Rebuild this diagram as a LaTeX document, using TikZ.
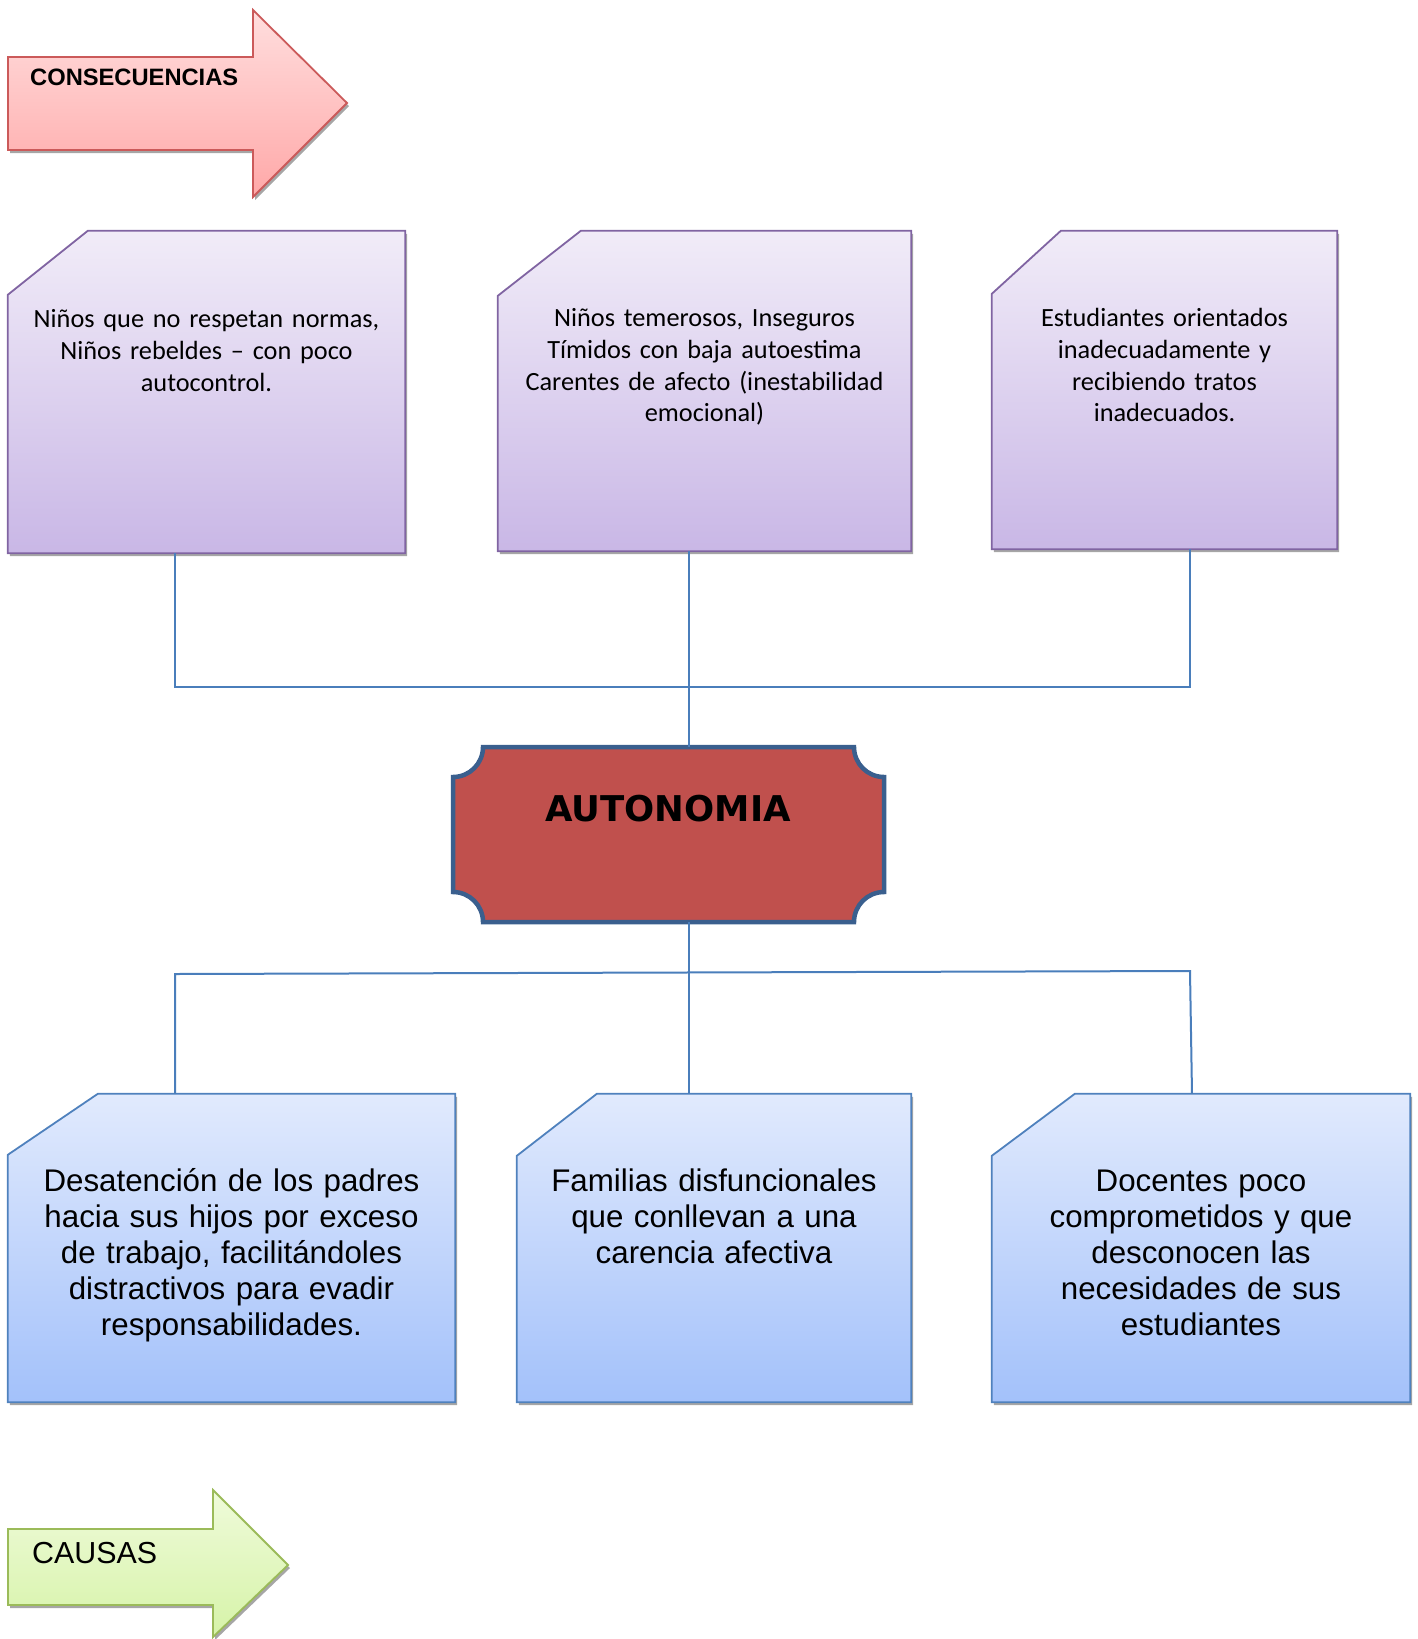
\documentclass[tikz,border=0pt]{standalone}
\usepackage{fontspec}
\setmainfont{Liberation Sans}
\newfontfamily\calfont{Carlito}
\newfontfamily\plaquefont{DejaVu Sans}
\usetikzlibrary{shadows}

\definecolor{linkblue}{HTML}{4A7EBB}
\definecolor{purpline}{HTML}{8064A2}
\definecolor{purptop}{HTML}{F1ECF8}
\definecolor{purpbot}{HTML}{C9B7E6}
\definecolor{blueline}{HTML}{4F81BD}
\definecolor{bluetop}{HTML}{E1EAFD}
\definecolor{bluebot}{HTML}{A3C1FA}
\definecolor{redline}{HTML}{CB5A5A}
\definecolor{redtop}{HTML}{FFDEDE}
\definecolor{redbot}{HTML}{FFA8A8}
\definecolor{greenline}{HTML}{9BBB59}
\definecolor{greentop}{HTML}{EFFBDA}
\definecolor{greenbot}{HTML}{D6F3A8}
\definecolor{plaqueline}{HTML}{3A5F8E}
\definecolor{plaquered}{HTML}{C0504D}

\begin{document}
\begin{tikzpicture}[x=1pt,y=-1pt,
  link/.style={draw=linkblue, line width=2pt},
  frame/.style={rectangle, inner sep=0pt, draw=none},
  shad/.style={drop shadow={shadow xshift=2pt, shadow yshift=-3pt, opacity=0.35, fill=black}},
  consbox/.style={shad, draw=purpline, line width=1.8pt, top color=purptop, bottom color=purpbot},
  causbox/.style={shad, draw=blueline, line width=1.8pt, top color=bluetop, bottom color=bluebot},
  constext/.style={anchor=base, inner sep=0pt, align=center, text width=390pt, font=\calfont\fontsize{26.3}{31.6}\selectfont},
  caustext/.style={anchor=base, inner sep=0pt, align=center, text width=420pt, font=\fontsize{31.3}{36}\selectfont}]

    \useasboundingbox (0,0) rectangle (1417,1639);

    % arrows
    \draw[shad, draw=redline, line width=1.8pt, top color=redtop, bottom color=redbot] (8,57) -- (253,57) -- (253,10) -- (347,103) -- (253,197) -- (253,150) -- (8,150) -- cycle;
    \node[anchor=base west, inner sep=0pt, font=\bfseries\fontsize{23.7}{28}\selectfont] (conseq) at (30,85) {CONSECUENCIAS};

    \draw[shad, draw=greenline, line width=1.8pt, top color=greentop, bottom color=greenbot] (8,1529) -- (213,1529) -- (213,1490) -- (288,1565) -- (213,1637) -- (213,1605) -- (8,1605) -- cycle;
    \node[anchor=base west, inner sep=0pt, font=\fontsize{30.4}{34}\selectfont] (causas) at (32,1563) {CAUSAS};

    % boxes
    \node[frame, minimum width=397pt, minimum height=322pt] (c1) at (206.5,392) {};
    \node[frame, minimum width=413pt, minimum height=320pt] (c2) at (704.5,391) {};
    \node[frame, minimum width=345pt, minimum height=318pt] (c3) at (1164.5,390) {};
    \node[frame, minimum width=447pt, minimum height=308pt] (k1) at (231.5,1248) {};
    \node[frame, minimum width=394pt, minimum height=308pt] (k2) at (714,1248) {};
    \node[frame, minimum width=418pt, minimum height=308pt] (k3) at (1201,1248) {};

    \draw[consbox] ([xshift=80pt]c1.north west) -- (c1.north east) -- (c1.south east) -- (c1.south west) -- ([yshift=-64pt]c1.north west) -- cycle;
    \draw[consbox] ([xshift=83pt]c2.north west) -- (c2.north east) -- (c2.south east) -- (c2.south west) -- ([yshift=-65pt]c2.north west) -- cycle;
    \draw[consbox] ([xshift=69pt]c3.north west) -- (c3.north east) -- (c3.south east) -- (c3.south west) -- ([yshift=-63pt]c3.north west) -- cycle;
    \draw[causbox] ([xshift=90pt]k1.north west) -- (k1.north east) -- (k1.south east) -- (k1.south west) -- ([yshift=-61pt]k1.north west) -- cycle;
    \draw[causbox] ([xshift=80pt]k2.north west) -- (k2.north east) -- (k2.south east) -- (k2.south west) -- ([yshift=-62pt]k2.north west) -- cycle;
    \draw[causbox] ([xshift=83pt]k3.north west) -- (k3.north east) -- (k3.south east) -- (k3.south west) -- ([yshift=-62pt]k3.north west) -- cycle;

    \node[constext] (t1) at ([yshift=-97pt]c1.north) {Niños que no respetan normas,\\Niños rebeldes – con poco\\autocontrol.};
    \node[constext] (t2) at ([yshift=-96pt]c2.north) {Niños temerosos, Inseguros\\Tímidos con baja autoestima\\Carentes de afecto (inestabilidad\\emocional)};
    \node[constext] (t3) at ([yshift=-96pt]c3.north) {Estudiantes orientados\\inadecuadamente y\\recibiendo tratos\\inadecuados.};
    \node[caustext] (u1) at ([yshift=-98pt]k1.north) {Desatención de los padres\\hacia sus hijos por exceso\\de trabajo, facilitándoles\\distractivos para evadir\\responsabilidades.};
    \node[caustext] (u2) at ([yshift=-98pt]k2.north) {Familias disfuncionales\\que conllevan a una\\carencia afectiva};
    \node[caustext] (u3) at ([yshift=-98pt]k3.north) {Docentes poco\\comprometidos y que\\desconocen las\\necesidades de sus\\estudiantes};

    % plaque
    \draw[draw=plaqueline, line width=4.5pt, fill=plaquered] (483,747) -- (854,747) arc (180:90:30) -- (884,892) arc (270:180:30) -- (483,922) arc (0:-90:30) -- (453,777) arc (90:0:30) -- cycle;
    \node[frame, minimum width=431pt, minimum height=175pt] (auton) at (668.5,834.5) {};
    \node[anchor=base, inner sep=0pt, font=\plaquefont\bfseries\fontsize{35.5}{40}\selectfont] (autotext) at (668,821) {AUTONOMIA};

    % connectors
    \coordinate (tl) at (175,687);
    \coordinate (tm) at (689,687);
    \coordinate (tr) at (1190,687);
    \coordinate (bl) at (175,974);
    \coordinate (br) at (1190,971);

    \draw[link] (c1.south -| tl) to (tl) to (tr) to (c3.south -| tr);
    \draw[link] (c2.south -| tm) to (auton.north -| tm);
    \draw[link] (auton.south -| tm) to (k2.north -| tm);
    \draw[link] (k1.north -| bl) to (bl) to (br) to ([xshift=2pt]k3.north -| br);

\end{tikzpicture}
\end{document}
